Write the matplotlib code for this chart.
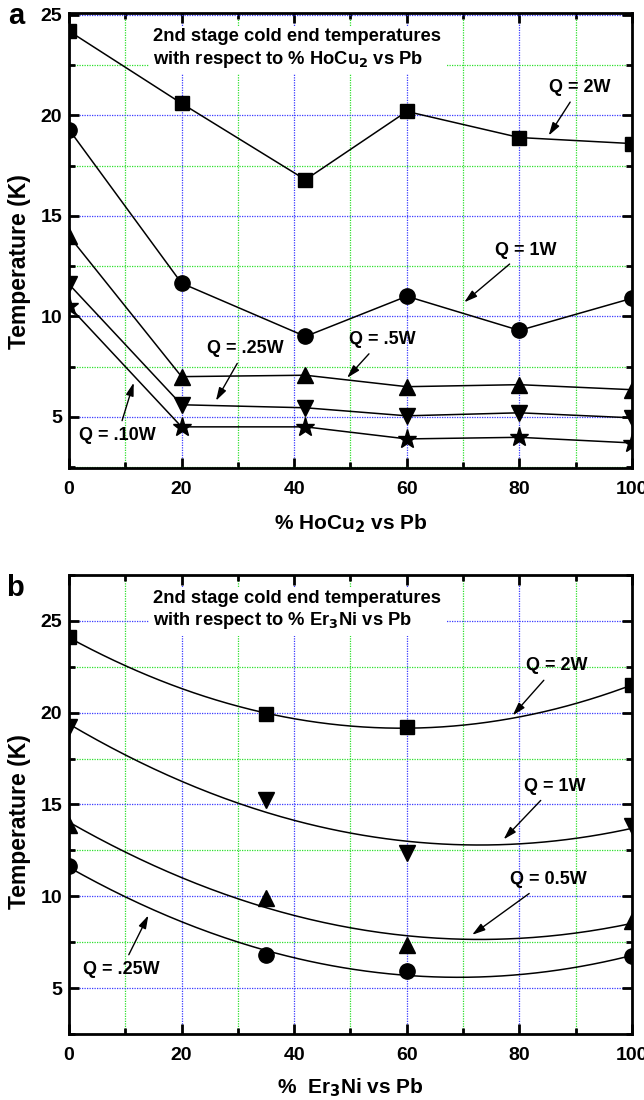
import matplotlib
matplotlib.use('Agg')
import matplotlib.pyplot as plt
import numpy as np
from matplotlib.ticker import MultipleLocator

plt.rcParams['font.family'] = ['Liberation Sans', 'DejaVu Sans']
plt.rcParams['font.weight'] = 'bold'

# panel a: % HoCu2 vs Pb
xa = [0, 20, 42, 60, 80, 100]
a_2w = [24.2, 20.6, 16.8, 20.2, 18.9, 18.6]
a_1w = [19.3, 11.65, 9.0, 11.0, 9.3, 10.9]
a_05w = [14.0, 7.0, 7.07, 6.5, 6.6, 6.35]
a_025w = [11.6, 5.6, 5.45, 5.05, 5.2, 4.95]
a_010w = [10.5, 4.5, 4.5, 3.9, 3.98, 3.7]

# panel b: % Er3Ni vs Pb
xb = [0, 35, 60, 100]
b_2w = [24.1, 19.93, 19.2, 21.5]
b_1w = [19.2, 15.25, 12.36, 13.85]
b_05w = [13.9, 9.9, 7.36, 8.64]
b_025w = [11.64, 6.82, 5.91, 6.73]

BLUE = '#3a3aff'
GREEN = '#2ee02e'
ARROW = dict(arrowstyle='-|>,head_length=0.6,head_width=0.18',
             color='k', lw=1, shrinkA=3, shrinkB=0)


def style_axes(ax, ylo, yhi, label_y):
  ax.set_xlim(0, 100)
  ax.set_ylim(ylo, yhi)
  ax.xaxis.set_major_locator(MultipleLocator(20))
  ax.xaxis.set_minor_locator(MultipleLocator(10))
  ax.yaxis.set_major_locator(MultipleLocator(5))
  ax.yaxis.set_minor_locator(MultipleLocator(2.5))
  ax.grid(which='major', color=BLUE, linestyle=(0, (1, 1)), linewidth=0.9)
  ax.grid(which='minor', color=GREEN, linestyle=(0, (1, 1)), linewidth=0.9)
  ax.tick_params(which='both', direction='in', top=True, right=True, width=2)
  ax.tick_params(which='major', length=7, labelsize=14, pad=5)
  ax.tick_params(axis='x', which='major', pad=9)
  ax.tick_params(which='minor', length=4)
  for s in ax.spines.values():
    s.set_linewidth(2)
  for lab in ax.get_xticklabels() + ax.get_yticklabels():
    lab.set_fontweight('bold')
  ax.set_ylabel('Temperature (K)', fontsize=16.5, fontweight='bold')
  ax.yaxis.set_label_coords(-0.068, label_y)


def note(ax, txt, xytext, xy):
  ax.annotate(txt, xy=xy, xytext=xytext, fontsize=13, fontweight='bold',
              ha='center', va='center', arrowprops=ARROW)


fig = plt.figure(figsize=(6.44, 11.0), dpi=100)
ax1 = fig.add_axes([0.1071, 0.5745, 0.8743, 0.4137])
ax2 = fig.add_axes([0.1071, 0.06, 0.8743, 0.4173])

# ---- panel a
style_axes(ax1, 2.45, 25.1, 0.453)
kw = dict(color='k', lw=1.1)
ax1.plot(xa, a_2w, marker='s', ms=10.5, **kw)
ax1.plot(xa, a_1w, marker='o', ms=11, **kw)
ax1.plot(xa, a_05w, marker='^', ms=11.5, **kw)
ax1.plot(xa, a_025w, marker='v', ms=11.5, **kw)
ax1.plot(xa, a_010w, marker='*', ms=14, **kw)

ax1.text(15.0, 23.3, '2nd stage cold end temperatures\nwith respect to % HoCu$_\\mathbf{2}$ vs Pb',
         fontsize=13.2, fontweight='bold', va='center', ha='left', linespacing=1.22,
         bbox=dict(facecolor='white', edgecolor='none', pad=3), zorder=3)

note(ax1, 'Q = 2W', (90.7, 21.4), (85.2, 19.0))
note(ax1, 'Q = 1W', (81.2, 13.3), (70.2, 10.7))
note(ax1, 'Q = .25W', (31.4, 8.4), (26.1, 5.8))
note(ax1, 'Q = .5W', (55.6, 8.85), (49.4, 6.94))
note(ax1, 'Q = .10W', (8.6, 4.05), (11.5, 6.7))
ax1.set_xlabel('% HoCu$_\\mathbf{2}$ vs Pb', fontsize=15, fontweight='bold', labelpad=11)

# ---- panel b
style_axes(ax2, 2.5, 27.5, 0.462)
xs = np.linspace(0, 100, 200)
for yv, m, ms in [(b_2w, 's', 10.5), (b_1w, 'v', 11.5), (b_05w, '^', 11.5), (b_025w, 'o', 11)]:
  ax2.plot(xb, yv, linestyle='none', marker=m, ms=ms, color='k')
  fit = np.polyfit(xb, yv, 2)
  ax2.plot(xs, np.polyval(fit, xs), color='k', lw=1.1)

ax2.text(15.0, 25.55, '2nd stage cold end temperatures\nwith respect to % Er$_\\mathbf{3}$Ni vs Pb',
         fontsize=13.2, fontweight='bold', va='center', ha='left', linespacing=1.22,
         bbox=dict(facecolor='white', edgecolor='none', pad=3), zorder=3)

note(ax2, 'Q = 2W', (86.6, 22.55), (78.8, 19.85))
note(ax2, 'Q = 1W', (86.2, 16.0), (77.2, 13.1))
note(ax2, 'Q = 0.5W', (85.1, 10.9), (71.6, 7.9))
note(ax2, 'Q = .25W', (9.3, 6.0), (14.1, 8.96))
ax2.set_xlabel('%  Er$_\\mathbf{3}$Ni vs Pb', fontsize=15, fontweight='bold', labelpad=9)

fig.text(16 / 644, 1 - 16 / 1100, 'a', fontsize=21, fontweight='bold', ha='center', va='center')
fig.text(15 / 644, 1 - 588 / 1100, 'b', fontsize=21, fontweight='bold', ha='center', va='center')

fig.savefig('out.png', dpi=100)
